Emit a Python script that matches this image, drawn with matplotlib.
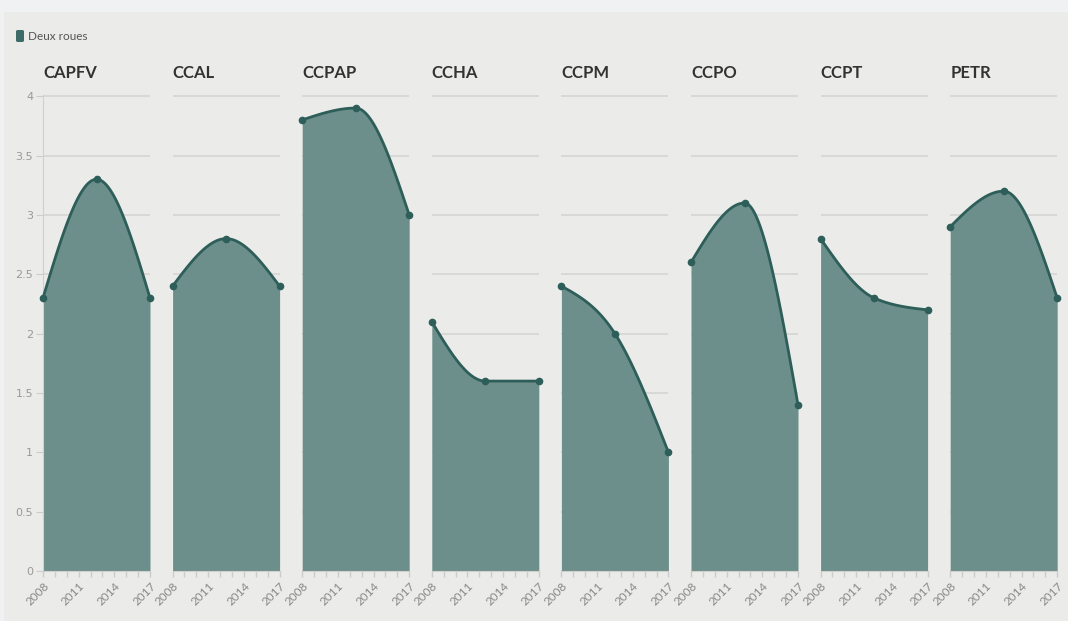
import numpy as np
import matplotlib.pyplot as plt
from matplotlib.patches import Rectangle, FancyBboxPatch

# data
regions = ["CAPFV", "CCAL", "CCPAP", "CCHA", "CCPM", "CCPO", "CCPT", "PETR"]
years = [2008, 2012.5, 2017]
capfv = [2.3, 3.3, 2.3]
ccal = [2.4, 2.8, 2.4]
ccpap = [3.8, 3.9, 3.0]
ccha = [2.1, 1.6, 1.6]
ccpm = [2.4, 2.0, 1.0]
ccpo = [2.6, 3.1, 1.4]
ccpt = [2.8, 2.3, 2.2]
petr = [2.9, 3.2, 2.3]
values = [capfv, ccal, ccpap, ccha, ccpm, ccpo, ccpt, petr]
tick_years = [2008, 2011, 2014, 2017]

fill_col = "#6d8f8b"
line_col = "#2e5e59"
bg = "#ebebe9"


def monotone(x, y, n=60):
    # d3 curveMonotoneX style hermite curve
    x = np.asarray(x, float)
    y = np.asarray(y, float)
    h = np.diff(x)
    s = np.diff(y) / h
    t = np.zeros(len(x))
    for i in range(1, len(x) - 1):
        p = (s[i - 1] * h[i] + s[i] * h[i - 1]) / (h[i - 1] + h[i])
        sg = (1 if s[i - 1] >= 0 else -1) + (1 if s[i] >= 0 else -1)
        t[i] = sg * min(abs(s[i - 1]), abs(s[i]), 0.5 * abs(p))
    t[0] = (3 * s[0] - t[1]) / 2
    t[-1] = (3 * s[-1] - t[-2]) / 2
    xs, ys = [], []
    for i in range(len(x) - 1):
        dx = h[i] / 3
        P = np.array([[x[i], y[i]], [x[i] + dx, y[i] + dx * t[i]],
                      [x[i + 1] - dx, y[i + 1] - dx * t[i + 1]], [x[i + 1], y[i + 1]]])
        u = np.linspace(0, 1, n)[:, None]
        B = ((1 - u) ** 3) * P[0] + 3 * ((1 - u) ** 2) * u * P[1] + 3 * (1 - u) * u ** 2 * P[2] + u ** 3 * P[3]
        xs.extend(B[:, 0])
        ys.extend(B[:, 1])
    return np.array(xs), np.array(ys)


W, H = 1068, 621
fig = plt.figure(figsize=(W / 100, H / 100), dpi=100)
fig.patch.set_facecolor(bg)
fig.patches.append(Rectangle((0, 1 - 12 / H), 1, 12 / H, transform=fig.transFigure,
                             facecolor="#f0f1f3", edgecolor="none", zorder=0))
fig.patches.append(Rectangle((0, 0), 4 / W, 1, transform=fig.transFigure,
                             facecolor="#f0f1f3", edgecolor="none", zorder=0))

# legend
fig.patches.append(FancyBboxPatch((16 / W, 1 - 42 / H), 8 / W, 12 / H,
                                  boxstyle="round,pad=0,rounding_size=0.002",
                                  transform=fig.transFigure, facecolor="#3d6b66",
                                  edgecolor="none"))
fig.text(28 / W, 1 - 36 / H, "Deux roues", fontsize=8.5, color="#555555",
         va="center", ha="left", family="Lato")

left0, pw, step = 43, 107, 129.6
bottom_px, top_px = 571, 95

for k, (name, vals) in enumerate(zip(regions, values)):
    ax = fig.add_axes([(left0 + k * step) / W, (H - bottom_px) / H, pw / W, (bottom_px - top_px) / H])
    ax.set_facecolor("none")
    xs, ys = monotone(years, vals)
    ax.fill_between(xs, 0, ys, color=fill_col, lw=0, zorder=2)
    ax.plot(xs, ys, color=line_col, lw=2, zorder=3, clip_on=False)
    ax.plot(years, vals, "o", color=line_col, ms=4.5, zorder=4, clip_on=False)
    ax.set_xlim(2008, 2017)
    ax.set_ylim(0, 4.01)
    ax.set_yticks(np.arange(0, 4.01, 0.5))
    ax.grid(axis="y", color="#d6d6d4", lw=1.3, zorder=0)
    ax.set_axisbelow(True)
    ax.set_xticks(tick_years)
    ax.set_xticks(range(2008, 2018), minor=True)
    ax.set_xticklabels([str(y) for y in tick_years], rotation=45, ha="right",
                       rotation_mode="anchor", fontsize=8.5, color="#888888", family="Lato")
    ax.tick_params(axis="x", which="both", color="#cccccc", length=4, width=1, pad=3)
    for sp in ["top", "right", "left"]:
        ax.spines[sp].set_visible(False)
    ax.spines["bottom"].set_color("#d0d0ce")
    if k == 0:
        ax.spines["left"].set_visible(True)
        ax.spines["left"].set_color("#d0d0ce")
        ax.set_yticklabels(["0", "0.5", "1", "1.5", "2", "2.5", "3", "3.5", "4"])
        ax.tick_params(axis="y", color="#cccccc", length=5, labelsize=8,
                       labelcolor="#999999", pad=2)
    else:
        ax.tick_params(axis="y", length=0, labelleft=False)
    ax.text(0, 1 + 22 / (bottom_px - top_px), name, transform=ax.transAxes, fontsize=12,
            fontweight="bold", color="#333333", ha="left", va="center", family="Lato")

fig.savefig("out.png", dpi=100, facecolor=bg)
